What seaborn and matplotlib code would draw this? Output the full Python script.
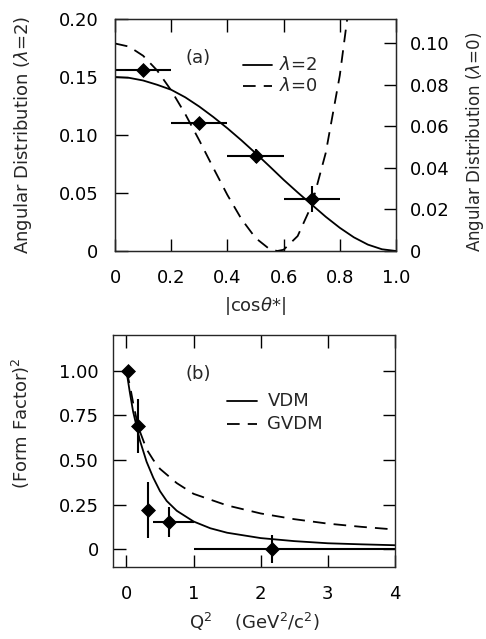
import numpy as np
import pandas as pd
import matplotlib
matplotlib.use("Agg")
import matplotlib.pyplot as plt
import seaborn as sns

# ---------------- data: panel (a) ----------------
cos_pts = [0.1, 0.3, 0.5, 0.7]
ang_pts = [0.156, 0.110, 0.082, 0.045]
ang_xerr = [0.1, 0.1, 0.1, 0.1]
ang_yerr = [0.003, 0.003, 0.006, 0.011]

cos_curve = [0.0, 0.05, 0.1, 0.15, 0.2, 0.25, 0.3, 0.35, 0.4, 0.45, 0.5,
             0.55, 0.6, 0.65, 0.7, 0.75, 0.8, 0.85, 0.9, 0.95, 1.0]
lam2_curve = [0.150, 0.1493, 0.1470, 0.1433, 0.1390, 0.1325, 0.1245, 0.1155,
              0.1058, 0.0954, 0.0844, 0.0730, 0.0614, 0.0505, 0.0400, 0.0295,
              0.0200, 0.0118, 0.0055, 0.0015, 0.0]
cos_curve0 = [0.0, 0.05, 0.1, 0.15, 0.2, 0.25, 0.3, 0.35, 0.4, 0.45, 0.5,
              0.55, 0.5774, 0.6, 0.65, 0.7, 0.75, 0.8, 0.85]
lam0_curve = [0.1000, 0.0985, 0.0941, 0.0870, 0.0774, 0.0660, 0.0533, 0.0400,
              0.0270, 0.0154, 0.0063, 0.0009, 0.0, 0.0006, 0.0072, 0.0221,
              0.0473, 0.0846, 0.1363]

# ---------------- data: panel (b) ----------------
q2_pts = [0.02, 0.17, 0.32, 0.64, 2.17]
ff_pts = [1.00, 0.69, 0.22, 0.153, 0.0]
ff_xerr_lo = [0.0, 0.0, 0.0, 0.24, 1.17]
ff_xerr_hi = [0.0, 0.0, 0.0, 0.36, 1.83]
ff_yerr = [0.0, 0.15, 0.155, 0.085, 0.08]

q2_vdm = [0.0, 0.05, 0.1, 0.15, 0.2, 0.3, 0.4, 0.5, 0.6, 0.75, 1.0, 1.25,
          1.5, 2.0, 2.5, 3.0, 3.5, 4.0]
vdm = [1.0, 0.88, 0.77, 0.69, 0.61, 0.49, 0.40, 0.325, 0.27, 0.215, 0.155,
       0.117, 0.092, 0.062, 0.045, 0.033, 0.027, 0.022]
q2_gvdm = [0.0, 0.05, 0.1, 0.15, 0.2, 0.3, 0.4, 0.5, 0.75, 1.0, 1.5, 2.0,
           2.5, 3.0, 3.5, 4.0]
gvdm = [1.0, 0.92, 0.82, 0.73, 0.66, 0.56, 0.50, 0.45, 0.37, 0.31, 0.245,
        0.20, 0.168, 0.143, 0.125, 0.11]

sns.set_style("ticks")
plt.rcParams['font.family'] = ['DejaVu Sans']
plt.rcParams['font.size'] = 13

W, H = 486, 639
fig = plt.figure(figsize=(W / 100, H / 100), dpi=100)

def frac(l, t, r, b):
    return [l / W, 1 - b / H, (r - l) / W, (b - t) / H]

lw = 1.3
dash = (7, 4.5)
tick_kw = dict(direction='in', length=9, width=1.0, labelsize=13, colors='black')

# ---------------- panel (a) ----------------
ax = fig.add_axes(frac(115, 19, 396, 251))
df2 = pd.DataFrame({"x": cos_curve, "y": lam2_curve})
sns.lineplot(data=df2, x="x", y="y", ax=ax, color='black', lw=lw, legend=False)
ax.set_xlim(0, 1.0)
ax.set_ylim(0, 0.20)
ax.set_xticks([0, 0.2, 0.4, 0.6, 0.8, 1.0])
ax.set_xticklabels(['0', '0.2', '0.4', '0.6', '0.8', '1.0'])
ax.set_yticks([0, 0.05, 0.10, 0.15, 0.20])
ax.set_yticklabels(['0', '0.05', '0.10', '0.15', '0.20'])
ax.tick_params(axis='both', which='both', top=True, right=False, **tick_kw)
ax.tick_params(axis='x', pad=13)
ax.tick_params(axis='y', pad=12)
ax.errorbar(cos_pts, ang_pts, xerr=ang_xerr, yerr=ang_yerr, fmt='none',
            ecolor='black', elinewidth=1.5, capsize=0)
sns.scatterplot(x=cos_pts, y=ang_pts, ax=ax, marker='D', s=50, color='black',
                edgecolor='black', zorder=5)
ax.set_xlabel(r'|cos$\theta$*|', fontsize=13, labelpad=6)
ax.set_ylabel(r'Angular Distribution ($\lambda$=2)', fontsize=13)
ax.yaxis.set_label_coords(-0.29, 0.5)
for s in ax.spines.values():
    s.set_linewidth(1.0)

ax2 = ax.twinx()
df0 = pd.DataFrame({"x": cos_curve0, "y": lam0_curve})
sns.lineplot(data=df0, x="x", y="y", ax=ax2, color='black', lw=lw,
             legend=False)
ax2.lines[0].set_dashes(dash)
ax2.set_ylim(0, 0.1118)
ax2.set_yticks([0, 0.02, 0.04, 0.06, 0.08, 0.10])
ax2.set_yticklabels(['0', '0.02', '0.04', '0.06', '0.08', '0.10'])
ax2.tick_params(axis='y', which='both', right=True, pad=10, **tick_kw)
ax2.set_ylabel(r'Angular Distribution ($\lambda$=0)', fontsize=12,
               rotation=90)
ax2.yaxis.set_label_coords(1.243, 0.47)
ax2.set_xlim(0, 1.0)

ax.text(0.295, 0.166, '(a)', fontsize=13, ha='center', va='center')
ax.plot([0.455, 0.56], [0.160, 0.160], color='black', lw=lw)
ax.plot([0.455, 0.56], [0.142, 0.142], color='black', lw=lw, dashes=dash)
ax.text(0.585, 0.160, r'$\lambda$=2', fontsize=13, va='center')
ax.text(0.585, 0.142, r'$\lambda$=0', fontsize=13, va='center')

# ---------------- panel (b) ----------------
bx = fig.add_axes(frac(113, 335, 395, 567))
dv = pd.DataFrame({"x": q2_vdm, "y": vdm})
dg = pd.DataFrame({"x": q2_gvdm, "y": gvdm})
sns.lineplot(data=dv, x="x", y="y", ax=bx, color='black', lw=lw, legend=False)
sns.lineplot(data=dg, x="x", y="y", ax=bx, color='black', lw=lw, legend=False)
bx.lines[1].set_dashes(dash)
bx.errorbar(q2_pts, ff_pts, xerr=[ff_xerr_lo, ff_xerr_hi], yerr=ff_yerr,
            fmt='none', ecolor='black', elinewidth=1.5, capsize=0)
sns.scatterplot(x=q2_pts, y=ff_pts, ax=bx, marker='D', s=50, color='black',
                edgecolor='black', zorder=5)
bx.set_xlim(-0.2, 4.0)
bx.set_ylim(-0.1, 1.2)
bx.set_xticks([0, 1, 2, 3, 4])
bx.set_xticklabels(['0', '1', '2', '3', '4'])
bx.set_yticks([0, 0.25, 0.5, 0.75, 1.0])
bx.set_yticklabels(['0', '0.25', '0.50', '0.75', '1.00'])
bx.tick_params(axis='both', which='both', top=True, right=True, **tick_kw)
bx.tick_params(axis='x', pad=13)
bx.tick_params(axis='y', pad=10)
bx.set_xlabel(r'Q$^2$    (GeV$^2$/c$^2$)', fontsize=13, labelpad=6)
bx.set_ylabel(r'(Form Factor)$^2$', fontsize=13)
bx.yaxis.set_label_coords(-0.287, 0.62)
for s in bx.spines.values():
    s.set_linewidth(1.0)

bx.text(1.07, 0.98, '(b)', fontsize=13, ha='center', va='center')
bx.plot([1.5, 1.95], [0.83, 0.83], color='black', lw=lw)
bx.plot([1.5, 1.95], [0.70, 0.70], color='black', lw=lw, dashes=dash)
bx.text(2.1, 0.83, 'VDM', fontsize=13, va='center')
bx.text(2.1, 0.70, 'GVDM', fontsize=13, va='center')

fig.savefig('out.png', dpi=100)
